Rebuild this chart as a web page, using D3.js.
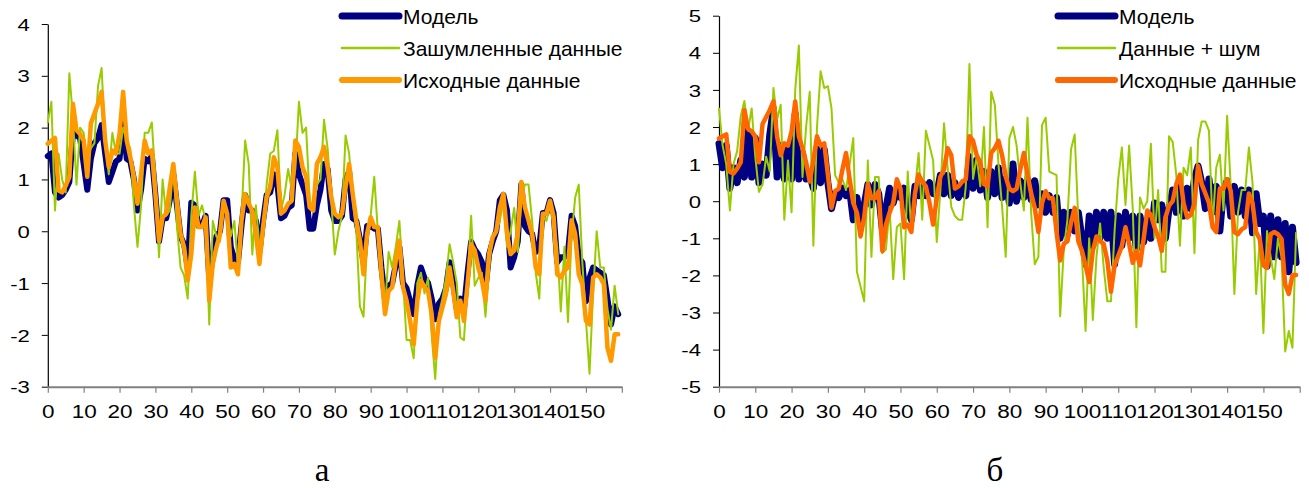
<!DOCTYPE html>
<html>
<head>
<meta charset="utf-8">
<script src="https://cdn.jsdelivr.net/npm/d3@7"></script>
<style>
  body { margin: 0; background: #fff; }
  svg { display: block; }
</style>
</head>
<body>
<script>
// source series (same in both panels)
var sourceData = [1.69,1.75,1.8,0.79,0.75,0.88,1.05,2.46,1.95,1.88,1.75,1.05,2.08,2.27,2.46,2.69,1.75,1.24,1.56,1.5,
  1.88,2.69,1.75,1.43,1.05,0.53,1.11,1.75,1.5,1.56,0.72,-0.18,0.27,0.34,0.85,1.3,0.59,-0.05,-0.31,-0.95,
  -0.44,0.46,0.08,0.08,0.27,-1.34,-0.63,-0.31,-0.05,0.59,0.34,-0.7,-0.63,-0.83,0.21,0.72,0.53,0.4,-0.05,-0.63,
  0.08,0.66,0.85,1.43,1.24,0.34,0.4,0.53,0.59,1.75,1.63,1.24,1.05,0.46,0.4,1.3,1.43,1.63,1.24,0.66,
  0.34,0.27,0.34,0.85,1.3,0.72,0.21,-0.18,-0.83,-0.05,0.27,0.08,0.08,-0.83,-1.6,-1.15,-1.08,-0.57,-0.18,-1.08,
  -1.34,-1.73,-2.18,-1.34,-0.95,-1.08,-1.15,-1.6,-2.44,-1.73,-1.47,-1.21,-0.7,-1.15,-1.66,-1.34,-1.73,-1.02,-0.25,-0.37,
  -0.7,-0.95,-1.34,-0.44,-0.12,0.0,0.46,0.72,-0.05,-0.44,-0.37,-0.05,0.95,0.46,0.21,-0.05,-0.7,-0.83,0.34,0.34,
  0.59,0.27,-0.83,-0.89,-0.76,-0.7,0.21,-0.05,-0.83,-1.02,-1.73,-1.8,-0.89,-0.83,-0.89,-1.02,-2.25,-2.5,-1.99,-1.99];

// panel a
var modelA = [1.45,1.5,0.75,0.65,0.7,0.8,0.95,1.9,1.85,1.8,1.3,0.8,1.4,1.7,1.8,2.05,1.5,0.95,1.15,1.35,
  1.4,2.1,1.4,1.35,1.0,0.4,0.8,1.4,1.35,1.45,0.7,-0.2,0.25,0.25,0.6,1.1,0.5,-0.1,-0.25,-0.7,
  0.55,0.5,0.1,0.1,0.3,-0.9,-0.5,-0.1,0.0,0.6,0.6,-0.3,-0.55,-0.6,0.1,0.7,0.4,0.4,0.2,-0.4,
  0.2,0.7,0.75,1.1,0.9,0.25,0.3,0.45,0.5,1.5,1.1,0.9,0.7,0.05,0.05,0.5,0.8,1.3,1.2,0.4,
  0.2,0.2,0.3,1.0,1.15,0.25,0.2,-0.15,-0.6,0.1,0.1,0.05,0.05,-0.7,-1.3,-1.05,-1.0,-0.65,-0.3,-1.0,
  -1.1,-1.35,-1.6,-1.05,-0.7,-0.9,-1.0,-1.3,-1.7,-1.4,-1.3,-1.1,-0.6,-1.0,-1.5,-1.3,-1.5,-0.8,-0.2,-0.35,
  -0.45,-0.6,-1.1,-0.45,-0.2,0.0,0.6,0.7,0.4,-0.7,-0.5,-0.2,0.9,0.1,0.0,-0.05,-0.4,-0.3,0.35,0.35,
  0.6,0.35,-0.6,-0.5,-0.5,-0.4,0.3,0.1,-0.5,-0.6,-1.35,-0.9,-0.7,-0.75,-0.8,-0.85,-1.3,-1.8,-1.45,-1.6];

var noisyA = [2.1,2.5,0.4,1.5,1.0,0.75,3.05,2.2,0.9,2.0,1.9,1.35,1.6,1.7,2.8,3.15,1.7,1.1,1.9,1.5,
  1.5,2.0,1.75,1.6,0.5,-0.3,0.5,1.9,1.9,2.1,1.0,-0.5,1.0,0.3,0.4,1.3,0.1,-0.7,-0.85,-1.3,
  0.3,1.15,0.3,0.5,0.2,-1.8,0.2,-0.1,-0.2,0.5,0.3,-0.1,0.2,-0.7,0.3,1.75,1.3,-0.45,0.5,-0.3,
  -0.1,0.9,1.5,1.55,1.95,0.4,0.7,1.2,0.8,1.2,2.5,1.9,2.0,0.6,0.4,0.9,1.0,2.15,1.6,0.6,
  -0.45,0.0,0.3,1.85,1.5,0.6,0.0,-1.45,-1.65,-0.2,0.3,1.05,0.0,-0.5,-1.5,-0.4,-0.7,-0.3,0.2,-0.9,
  -2.1,-2.1,-2.45,-1.0,-0.8,-1.2,-0.9,-2.0,-2.85,-1.6,-1.3,-0.9,-0.25,-0.6,-1.0,-2.05,-2.1,-1.0,0.3,-1.05,
  -0.9,-0.8,-1.65,-0.7,-0.1,0.0,0.2,0.6,-0.3,0.0,0.45,-0.4,0.6,0.9,0.9,0.2,-0.8,-1.3,0.3,0.2,
  0.5,0.1,-0.3,-1.55,-0.3,-1.75,-0.1,0.65,0.9,-0.6,-1.7,-2.75,-1.2,0.0,-0.7,-0.7,-1.5,-1.9,-1.05,-1.6];

// panel b
var modelB = [1.55,0.9,1.5,0.35,0.9,0.5,1.1,0.65,1.9,0.65,1.7,0.5,1.0,0.7,1.8,2.5,0.65,1.5,0.6,1.4,
  0.6,2.35,0.6,1.3,0.6,0.7,0.35,1.4,0.5,1.4,0.5,-0.2,0.2,0.1,0.35,0.15,0.3,-0.5,0.1,-0.6,
  -0.1,0.45,-0.1,0.45,0.2,-0.75,-0.2,0.35,-0.05,0.3,0.1,0.35,-0.2,-0.5,0.4,0.15,0.5,0.15,0.5,0.2,
  0.2,0.7,0.2,0.7,0.15,0.5,0.1,0.4,0.15,1.2,0.35,1.1,0.3,0.8,0.1,0.8,0.2,0.9,0.1,0.6,
  -0.05,1.0,0.0,0.55,0.1,0.6,0.05,0.55,-0.1,0.2,-0.3,0.15,-0.3,0.1,-1.0,-0.3,-0.9,-0.3,-0.8,-0.3,
  -1.0,-1.7,-0.4,-1.2,-0.3,-1.0,-0.3,-1.0,-0.3,-1.7,-0.4,-1.2,-0.3,-1.0,-0.4,-1.3,-0.4,-1.1,-0.5,-1.0,
  -0.05,-0.5,-0.1,-1.0,-0.2,0.3,-0.3,0.4,-0.4,0.35,-0.2,0.6,0.95,0.5,-0.2,0.6,-0.3,0.4,-0.8,0.3,
  0.55,-0.4,0.4,-0.3,0.3,-0.4,0.3,-0.85,0.2,-0.6,-0.4,-1.75,-0.4,-1.5,-0.5,-1.5,-0.6,-1.9,-0.7,-1.65];

var noisyB = [2.5,1.5,1.0,-0.25,1.0,1.35,2.3,2.7,1.9,2.5,1.2,0.25,0.45,1.2,0.8,3.05,2.2,2.6,-0.5,1.1,
  -0.3,3.0,4.2,0.65,2.0,2.95,-1.2,2.0,3.5,3.05,3.1,2.5,0.7,0.5,0.6,0.3,1.0,1.7,-1.9,-2.3,
  -2.7,1.1,-1.5,0.65,0.65,-1.4,-1.3,-0.15,-2.1,-0.7,-0.6,-2.1,0.8,-0.85,0.3,1.3,-0.5,1.9,1.5,1.1,
  -1.1,0.3,2.1,0.9,-0.15,-0.4,-0.5,-0.5,0.4,3.7,0.6,1.2,0.4,2.0,-0.7,2.95,2.6,1.0,-0.15,-1.5,
  1.7,2.0,1.5,0.5,-0.25,2.25,-0.3,-1.7,-1.5,2.05,2.25,0.8,0.75,0.7,-3.1,-1.3,-0.5,1.4,1.8,-0.5,
  -1.5,-3.5,-1.0,-3.2,-1.5,-0.6,-1.8,-2.7,-2.7,-0.8,0.6,1.45,-0.1,1.5,-0.2,-3.4,0.1,-0.2,0.0,1.55,
  -1.0,0.3,-1.9,-1.9,1.75,1.6,0.7,-1.2,0.9,0.7,1.45,-1.4,1.65,2.15,2.15,1.9,-0.7,0.9,1.25,-0.25,
  2.3,0.4,-2.5,-0.3,0.3,0.3,1.45,0.5,-2.5,-1.0,-3.55,-0.8,-1.5,-2.1,-1.0,-1.5,-4.05,-3.5,-3.95,-0.85];

var xTickValues = [0,10,20,30,40,50,60,70,80,90,100,110,120,130,140,150,160];
var yTicksA = [-3,-2,-1,0,1,2,3,4];
var yTicksB = [-5,-4,-3,-2,-1,0,1,2,3,4,5];
var legendA = ["Модель", "Зашумленные данные", "Исходные данные"];
var legendB = ["Модель", "Данные + шум", "Исходные данные"];

var svg = d3.select("body").append("svg")
    .attr("width", 1309)
    .attr("height", 488)
    .style("font-family", "'Liberation Sans', Arial, sans-serif");

var axisY = 386.7;

function drawPanel(p) {
  var x = d3.scaleLinear().domain([0, 160]).range([p.left, p.right]);
  var y = d3.scaleLinear().domain([p.yTicks[0], p.yTicks[p.yTicks.length - 1]]).range([axisY, p.top]);
  var g = svg.append("g");

  // y axis
  var ya = g.append("g")
      .attr("transform", `translate(${p.left},0)`)
      .call(d3.axisLeft(y).tickValues(p.yTicks).tickSize(6).tickSizeOuter(0).tickFormat(d => String(d)));
  ya.select(".domain").attr("stroke", "#000").attr("stroke-width", 1.2);
  ya.selectAll(".tick line").attr("stroke", "#000");
  ya.selectAll("text")
      .attr("font-size", 17)
      .attr("fill", "#000")
      .attr("x", -18 / 1.3)
      .attr("dy", "0.36em")
      .attr("transform", "scale(1.3,1)");

  // x axis
  var xa = g.append("g")
      .attr("transform", `translate(0,${axisY})`)
      .call(d3.axisBottom(x).tickValues(xTickValues).tickSize(6).tickSizeOuter(0)
        .tickFormat(d => d < 160 ? String(d) : ""));
  xa.select(".domain").attr("stroke", "#808080").attr("stroke-width", 2);
  xa.selectAll(".tick line").attr("stroke", "#808080").attr("stroke-width", 1.2);
  xa.selectAll("text")
      .attr("font-size", 18)
      .attr("fill", "#000")
      .attr("y", 31)
      .attr("dy", 0)
      .attr("transform", "scale(1.25,1)");

  var line = d3.line()
      .x((d, i) => x(i))
      .y(d => y(d))
      .curve(d3.curveLinear);

  p.series.forEach(function(s) {
    g.append("path")
        .datum(s.values)
        .attr("fill", "none")
        .attr("stroke", s.color)
        .attr("stroke-width", s.width)
        .attr("stroke-linejoin", "round")
        .attr("stroke-linecap", "round")
        .attr("d", line);
  });

  // legend
  var rows = [16, 48, 80];
  p.series.forEach(function(s, i) {
    g.append("line")
        .attr("x1", p.legendX).attr("x2", p.legendX + 57)
        .attr("y1", rows[i]).attr("y2", rows[i])
        .attr("stroke", s.color)
        .attr("stroke-width", s.legendWidth)
        .attr("stroke-linecap", "round");
    g.append("text")
        .attr("x", p.legendX + 61)
        .attr("y", rows[i])
        .attr("dy", "0.36em")
        .attr("font-size", 21)
        .attr("fill", "#000")
        .text(p.labels[i]);
  });

  svg.append("text")
      .attr("x", p.captionX)
      .attr("y", 481)
      .attr("text-anchor", "middle")
      .attr("font-family", "'Liberation Serif', 'Times New Roman', serif")
      .attr("font-size", 33)
      .attr("fill", "#000")
      .text(p.caption);
}

drawPanel({
  left: 47.8, right: 621.8, top: 24, yTicks: yTicksA,
  legendX: 342, labels: legendA, captionX: 322, caption: "а",
  series: [
    {values: modelA, color: "#000080", width: 6, legendWidth: 7},
    {values: noisyA, color: "#99CC00", width: 2, legendWidth: 2.5},
    {values: sourceData, color: "#FF9900", width: 4.5, legendWidth: 6}
  ]
});

drawPanel({
  left: 719, right: 1299.7, top: 15.7, yTicks: yTicksB,
  legendX: 1058, labels: legendB, captionX: 995, caption: "б",
  series: [
    {values: modelB, color: "#000080", width: 7, legendWidth: 7},
    {values: noisyB, color: "#99CC00", width: 2, legendWidth: 2.5},
    {values: sourceData, color: "#FF6600", width: 4.5, legendWidth: 6}
  ]
});
</script>
</body>
</html>
